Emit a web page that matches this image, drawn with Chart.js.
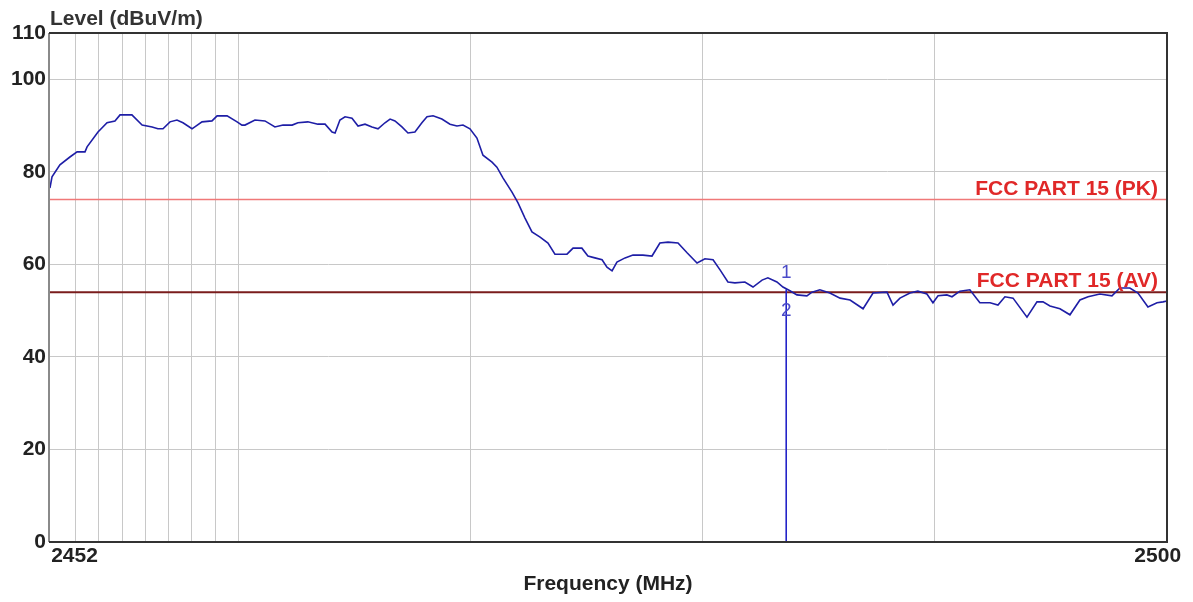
<!DOCTYPE html>
<html>
<head>
<meta charset="utf-8">
<script src="https://cdn.jsdelivr.net/npm/chart.js@4.4.1/dist/chart.umd.min.js"></script>
<style>
  html, body { margin: 0; padding: 0; background: #fff; }
  canvas { display: block; }
</style>
</head>
<body>
<canvas id="emiChart" width="1193" height="602"></canvas>
<script>
// Spectrum scan (MHz / dBuV/m)
const freqMHz = [
  2451.89, 2451.98, 2452.32, 2452.75, 2453.06, 2453.40, 2453.49, 2453.96, 2454.35, 2454.69,
  2454.91, 2455.42, 2455.86, 2456.29, 2456.54, 2456.76, 2457.06, 2457.36, 2457.62, 2458.01,
  2458.44, 2458.87, 2459.09, 2459.52, 2459.95, 2460.16, 2460.29, 2460.72, 2461.15, 2461.58,
  2461.93, 2462.32, 2462.57, 2463.00, 2463.43, 2463.74, 2464.04, 2464.17, 2464.38, 2464.60,
  2464.90, 2465.16, 2465.46, 2465.76, 2466.02, 2466.32, 2466.54, 2466.75, 2467.05, 2467.31,
  2467.61, 2467.91, 2468.13, 2468.39, 2468.77, 2469.12, 2469.42, 2469.68, 2469.98, 2470.28,
  2470.54, 2470.93, 2471.14, 2471.40, 2471.79, 2472.05, 2472.35, 2472.65, 2473.00, 2473.34,
  2473.64, 2473.86, 2474.16, 2474.42, 2474.80, 2475.06, 2475.36, 2475.67, 2475.88, 2476.10,
  2476.31, 2476.66, 2477.00, 2477.43, 2477.82, 2478.16, 2478.51, 2478.94, 2479.33, 2479.76,
  2480.10, 2480.45, 2480.75, 2481.09, 2481.39, 2481.82, 2482.17, 2482.56, 2482.81, 2483.20,
  2483.46, 2483.76, 2484.06, 2484.49, 2484.71, 2485.05, 2485.48, 2485.92, 2486.35, 2486.91,
  2487.34, 2487.94, 2488.20, 2488.50, 2488.93, 2489.27, 2489.66, 2489.92, 2490.14, 2490.52,
  2490.74, 2491.08, 2491.51, 2491.94, 2492.38, 2492.72, 2493.02, 2493.37, 2493.97, 2494.40,
  2494.66, 2494.96, 2495.39, 2495.82, 2496.25, 2496.60, 2497.11, 2497.63, 2497.97, 2498.40,
  2498.75, 2499.18, 2499.57, 2499.83, 2500.00
];
const levelDb = [
  76.5, 78.9, 81.5, 83.2, 84.3, 84.3, 85.4, 88.6, 90.6, 91.0,
  92.3, 92.3, 90.1, 89.7, 89.3, 89.3, 90.8, 91.2, 90.6, 89.3,
  90.8, 91.0, 92.1, 92.1, 90.8, 90.1, 90.1, 91.2, 91.0, 89.7,
  90.1, 90.1, 90.6, 90.8, 90.3, 90.3, 88.6, 88.4, 91.2, 91.9,
  91.6, 89.9, 90.3, 89.7, 89.3, 90.6, 91.4, 91.0, 89.7, 88.4,
  88.6, 90.6, 91.9, 92.1, 91.4, 90.3, 89.9, 90.1, 89.3, 87.3,
  83.6, 82.1, 81.0, 78.7, 75.6, 73.3, 70.0, 67.0, 65.9, 64.6,
  62.2, 62.2, 62.2, 63.5, 63.5, 61.8, 61.4, 61.0, 59.4, 58.6,
  60.5, 61.4, 62.0, 62.0, 61.8, 64.6, 64.8, 64.6, 62.5, 60.3,
  61.2, 61.0, 58.8, 56.2, 56.0, 56.2, 55.1, 56.6, 57.1, 56.2,
  55.1, 54.3, 53.4, 53.2, 54.0, 54.5, 53.8, 52.7, 52.3, 50.4,
  53.8, 54.0, 51.2, 52.7, 53.8, 54.2, 53.6, 51.7, 53.2, 53.4,
  53.0, 54.2, 54.5, 51.7, 51.7, 51.2, 53.0, 52.7, 48.6, 51.9,
  51.9, 51.0, 50.4, 49.1, 52.3, 53.0, 53.6, 53.2, 54.9, 54.9,
  53.8, 50.8, 51.7, 51.9, 52.1
];

// Limits and marker
const limitLabels = ["FCC PART 15 (PK)", "FCC PART 15 (AV)"];
const limitLevels = [74, 54];
const markerFreq = 2483.6;
const markerLevel = 54.6;
const markerLabels = ["1", "2"];

// Axis setup
const xMin = 2451.85;
const xMax = 2500;
const xGridFreqs = [2453, 2454, 2455, 2456, 2457, 2458, 2459, 2460, 2470, 2480, 2490];
// the two end labels sit a little inside/outside the frame, as in the original plot
const xEndLabels = ["2452", "2500"];
const xEndLabelPos = [2452.95, 2499.6];
const yTicks = [0, 20, 40, 60, 80, 100, 110];

const FONT = 'Arial, "Liberation Sans", sans-serif';

const traceData = freqMHz.map((f, i) => ({ x: f, y: levelDb[i] }));

// Draws the frame, the y title, limit captions and marker numbers
const overlayPlugin = {
  id: "overlay",
  afterDatasetsDraw(chart) {
    const { ctx, chartArea: a, scales } = chart;
    const x = scales.x, y = scales.y;
    ctx.save();

    // frame
    ctx.lineWidth = 2;
    ctx.strokeStyle = "#8a8a8a";
    ctx.beginPath();
    ctx.moveTo(a.left, a.top);
    ctx.lineTo(a.left, a.bottom);
    ctx.stroke();
    ctx.strokeStyle = "#333";
    ctx.beginPath();
    ctx.moveTo(a.left, a.top);
    ctx.lineTo(a.right, a.top);
    ctx.lineTo(a.right, a.bottom);
    ctx.lineTo(a.left, a.bottom);
    ctx.stroke();

    // y axis title
    ctx.fillStyle = "#333";
    ctx.font = "bold 21px " + FONT;
    ctx.textAlign = "left";
    ctx.textBaseline = "alphabetic";
    ctx.fillText("Level (dBuV/m)", a.left + 1, 25);

    // limit captions
    ctx.fillStyle = "#e02828";
    ctx.font = "bold 21px " + FONT;
    ctx.textAlign = "right";
    limitLabels.forEach((txt, i) => {
      ctx.fillText(txt, a.right - 9, y.getPixelForValue(limitLevels[i]) - 5);
    });

    // marker numbers
    ctx.fillStyle = "#4a4ac8";
    ctx.font = "19px " + FONT;
    ctx.textAlign = "center";
    ctx.textBaseline = "middle";
    const mx = x.getPixelForValue(markerFreq);
    const my = y.getPixelForValue(markerLevel);
    ctx.fillText(markerLabels[0], mx, my - 17);
    ctx.fillText(markerLabels[1], mx, my + 21);
    ctx.restore();
  }
};

new Chart(document.getElementById("emiChart"), {
  type: "line",
  data: {
    datasets: [
      {
        label: "Level",
        data: traceData,
        borderColor: "#1e1ea6",
        borderWidth: 1.6,
        pointRadius: 0,
        tension: 0,
        order: 1
      },
      {
        label: "Marker",
        data: [{ x: markerFreq, y: 0 }, { x: markerFreq, y: markerLevel }],
        borderColor: "#2323c8",
        borderWidth: 1.6,
        pointRadius: 0,
        order: 2
      },
      {
        label: limitLabels[0],
        data: [{ x: xMin, y: limitLevels[0] }, { x: xMax, y: limitLevels[0] }],
        borderColor: "#f07878",
        borderWidth: 1.5,
        pointRadius: 0,
        order: 3
      },
      {
        label: limitLabels[1],
        data: [{ x: xMin, y: limitLevels[1] }, { x: xMax, y: limitLevels[1] }],
        borderColor: "#7a1c1c",
        borderWidth: 2,
        pointRadius: 0,
        order: 3
      }
    ]
  },
  options: {
    responsive: false,
    animation: false,
    layout: { padding: { top: 33, right: 26, left: 0, bottom: 0 } },
    plugins: {
      legend: { display: false },
      tooltip: { enabled: false }
    },
    scales: {
      x: {
        type: "linear",
        min: xMin,
        max: xMax,
        afterBuildTicks: (scale) => {
          const vals = [...xGridFreqs, ...xEndLabelPos].sort((p, q) => p - q);
          scale.ticks = vals.map(v => ({ value: v }));
        },
        afterFit: (scale) => { scale.height = 60; },
        grid: {
          drawTicks: false,
          color: (c) => (c.tick && xEndLabelPos.includes(c.tick.value)) ? "rgba(0,0,0,0)" : "#c8c8c8",
          lineWidth: 1
        },
        border: { display: false },
        ticks: {
          autoSkip: false,
          maxRotation: 0,
          padding: 2,
          color: "#222",
          font: { family: FONT, size: 21, weight: "bold" },
          callback: (v) => {
            const k = xEndLabelPos.indexOf(v);
            return k >= 0 ? xEndLabels[k] : "";
          }
        },
        title: {
          display: true,
          text: "Frequency (MHz)",
          color: "#222",
          font: { family: FONT, size: 21, weight: "bold" },
          padding: { top: 0, bottom: 5 }
        }
      },
      y: {
        min: 0,
        max: 110,
        afterBuildTicks: (scale) => {
          scale.ticks = yTicks.map(v => ({ value: v }));
        },
        afterFit: (scale) => { scale.width = 49; },
        grid: { drawTicks: false, color: "#c8c8c8", lineWidth: 1 },
        border: { display: false },
        ticks: {
          padding: 3,
          color: "#222",
          font: { family: FONT, size: 21, weight: "bold" }
        }
      }
    }
  },
  plugins: [overlayPlugin]
});
</script>
</body>
</html>
